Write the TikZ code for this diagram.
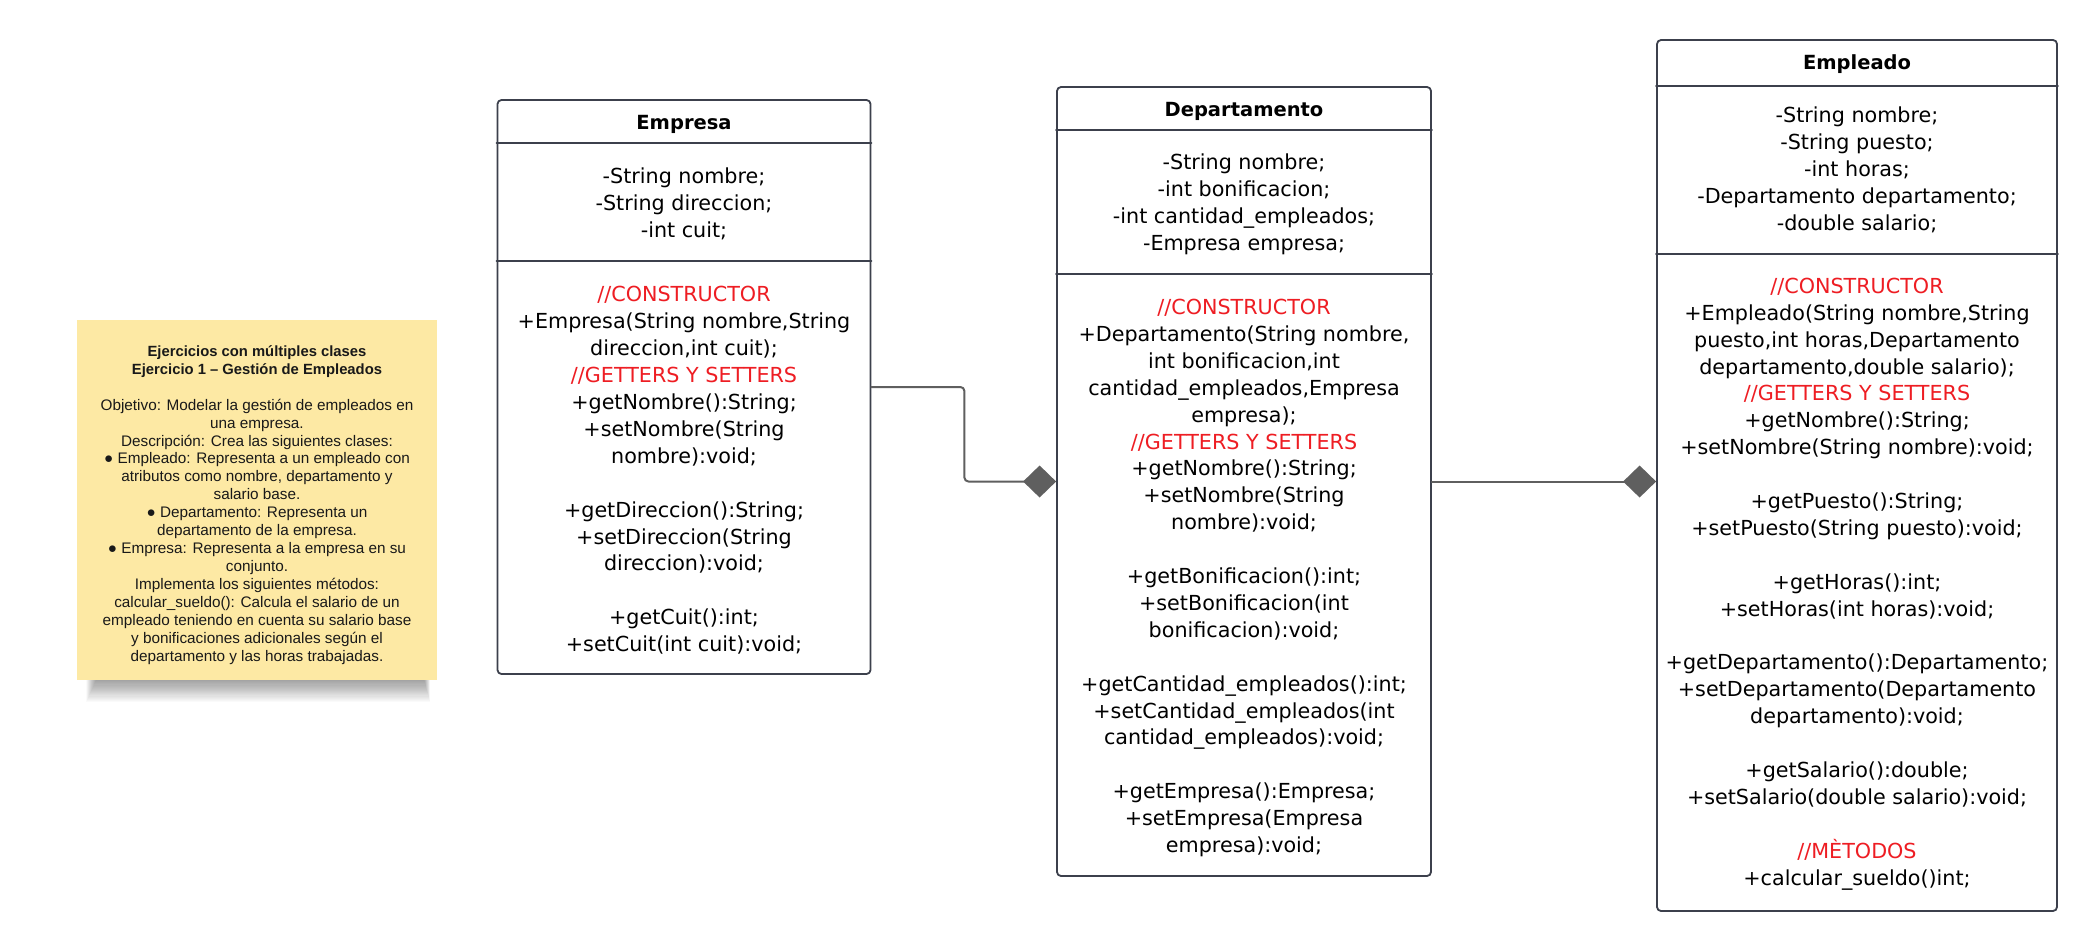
\documentclass[tikz,border=0pt]{standalone}
\usepackage{fontspec}
\setmainfont{Liberation Sans}
\newfontfamily\boxfont{DejaVu Sans}
\usetikzlibrary{arrows.meta}
\definecolor{framegray}{RGB}{60,64,76}
\definecolor{linkgray}{RGB}{95,95,95}
\definecolor{notered}{RGB}{238,29,35}
\definecolor{stickyfill}{RGB}{253,233,164}
\definecolor{inkblack}{RGB}{25,25,25}
\begin{document}
\begin{tikzpicture}[x=1pt, y=-1pt, line join=round, line cap=round,
 classframe/.style={draw=framegray, line width=1.8pt, rounded corners=4pt, inner sep=0pt},
 sepline/.style={draw=framegray, line width=1.8pt},
 classtitle/.style={inner sep=0pt, font=\boxfont\fontsize{19.5}{24}\selectfont\bfseries},
 members/.style={align=center, inner sep=0pt, font=\boxfont\fontsize{20.7}{26.9}\selectfont},
 link/.style={draw=linkgray, line width=2pt, rounded corners=4pt, -{Diamond[length=33pt,width=32pt,fill=linkgray]}}]
 \fill[white] (0,0) rectangle (2097,951);
 \useasboundingbox (0,0) rectangle (2097,951);
 % sticky note
 \foreach \d in {1,...,20}
  \fill[black, opacity=0.018] (96-\d*0.5,340) rectangle (424+\d*0.3,680+\d*1.1);
 \node[fill=stickyfill, minimum width=360pt, minimum height=360pt, inner sep=0pt] (nota) at (257,500) {};
 \node[align=center, inner sep=0pt, text=inkblack, font=\fontsize{15.3}{17.95}\selectfont] (notatexto) at (257,505) {%
  {\fontsize{14.8}{17.95}\selectfont\textbf{Ejercicios con múltiples clases}}\\
  {\fontsize{14.8}{17.95}\selectfont\textbf{Ejercicio 1 – Gestión de Empleados}}\\[\baselineskip]
  Objetivo: Modelar la gestión de empleados en\\
  una empresa.\\
  Descripción: Crea las siguientes clases:\\
  ● Empleado: Representa a un empleado con\\
  atributos como nombre, departamento y\\
  salario base.\\
  ● Departamento: Representa un\\
  departamento de la empresa.\\
  ● Empresa: Representa a la empresa en su\\
  conjunto.\\
  Implementa los siguientes métodos:\\
  calcular\_sueldo(): Calcula el salario de un\\
  empleado teniendo en cuenta su salario base\\
  y bonificaciones adicionales según el\\
  departamento y las horas trabajadas.};
 % Empresa
 \node[classframe, minimum width=373pt, minimum height=574pt] (empresa) at (684,387) {};
 \draw[sepline] (empresa.west |- 0,143) -- (empresa.east |- 0,143);
 \draw[sepline] (empresa.west |- 0,261) -- (empresa.east |- 0,261);
 \node[classtitle] (empresa-titulo) at (684,124) {Empresa};
 \node[members] (empresa-attr) at (684,203.5) {-String nombre;\\ -String direccion;\\ -int cuit;};
 \node[members] (empresa-met) at (684,470.5) {%
  \textcolor{notered}{//CONSTRUCTOR}\\
  +Empresa(String nombre,String\\
  direccion,int cuit);\\
  \textcolor{notered}{//GETTERS Y SETTERS}\\
  +getNombre():String;\\
  +setNombre(String\\
  nombre):void;\\[\baselineskip]
  +getDireccion():String;\\
  +setDireccion(String\\
  direccion):void;\\[\baselineskip]
  +getCuit():int;\\
  +setCuit(int cuit):void;};
 % Departamento
 \node[classframe, minimum width=374pt, minimum height=789pt] (departamento) at (1244,481.5) {};
 \draw[sepline] (departamento.west |- 0,130) -- (departamento.east |- 0,130);
 \draw[sepline] (departamento.west |- 0,274) -- (departamento.east |- 0,274);
 \node[classtitle] (departamento-titulo) at (1244,111) {Departamento};
 \node[members] (departamento-attr) at (1244,204.5) {-String nombre;\\ -int bonificacion;\\ -int cantidad\_empleados;\\ -Empresa empresa;};
 \node[members] (departamento-met) at (1244,578) {%
  \textcolor{notered}{//CONSTRUCTOR}\\
  +Departamento(String nombre,\\
  int bonificacion,int\\
  cantidad\_empleados,Empresa\\
  empresa);\\
  \textcolor{notered}{//GETTERS Y SETTERS}\\
  +getNombre():String;\\
  +setNombre(String\\
  nombre):void;\\[\baselineskip]
  +getBonificacion():int;\\
  +setBonificacion(int\\
  bonificacion):void;\\[\baselineskip]
  +getCantidad\_empleados():int;\\
  +setCantidad\_empleados(int\\
  cantidad\_empleados):void;\\[\baselineskip]
  +getEmpresa():Empresa;\\
  +setEmpresa(Empresa\\
  empresa):void;};
 % Empleado
 \node[classframe, minimum width=400pt, minimum height=871pt] (empleado) at (1857,475.5) {};
 \draw[sepline] (empleado.west |- 0,86) -- (empleado.east |- 0,86);
 \draw[sepline] (empleado.west |- 0,254) -- (empleado.east |- 0,254);
 \node[classtitle] (empleado-titulo) at (1857,64.5) {Empleado};
 \node[members] (empleado-attr) at (1857,170) {-String nombre;\\ -String puesto;\\ -int horas;\\ -Departamento departamento;\\ -double salario;};
 \node[members] (empleado-met) at (1857,584) {%
  \textcolor{notered}{//CONSTRUCTOR}\\
  +Empleado(String nombre,String\\
  puesto,int horas,Departamento\\
  departamento,double salario);\\
  \textcolor{notered}{//GETTERS Y SETTERS}\\
  +getNombre():String;\\
  +setNombre(String nombre):void;\\[\baselineskip]
  +getPuesto():String;\\
  +setPuesto(String puesto):void;\\[\baselineskip]
  +getHoras():int;\\
  +setHoras(int horas):void;\\[\baselineskip]
  +getDepartamento():Departamento;\\
  +setDepartamento(Departamento\\
  departamento):void;\\[\baselineskip]
  +getSalario():double;\\
  +setSalario(double salario):void;\\[\baselineskip]
  \textcolor{notered}{//MÈTODOS}\\
  +calcular\_sueldo()int;};
 % composiciones
 \draw[link] (empresa.east) -- ++(93,0) |- (departamento.west);
 \draw[link] (departamento.east) -- (departamento.east -| empleado.west);
\end{tikzpicture}
\end{document}
